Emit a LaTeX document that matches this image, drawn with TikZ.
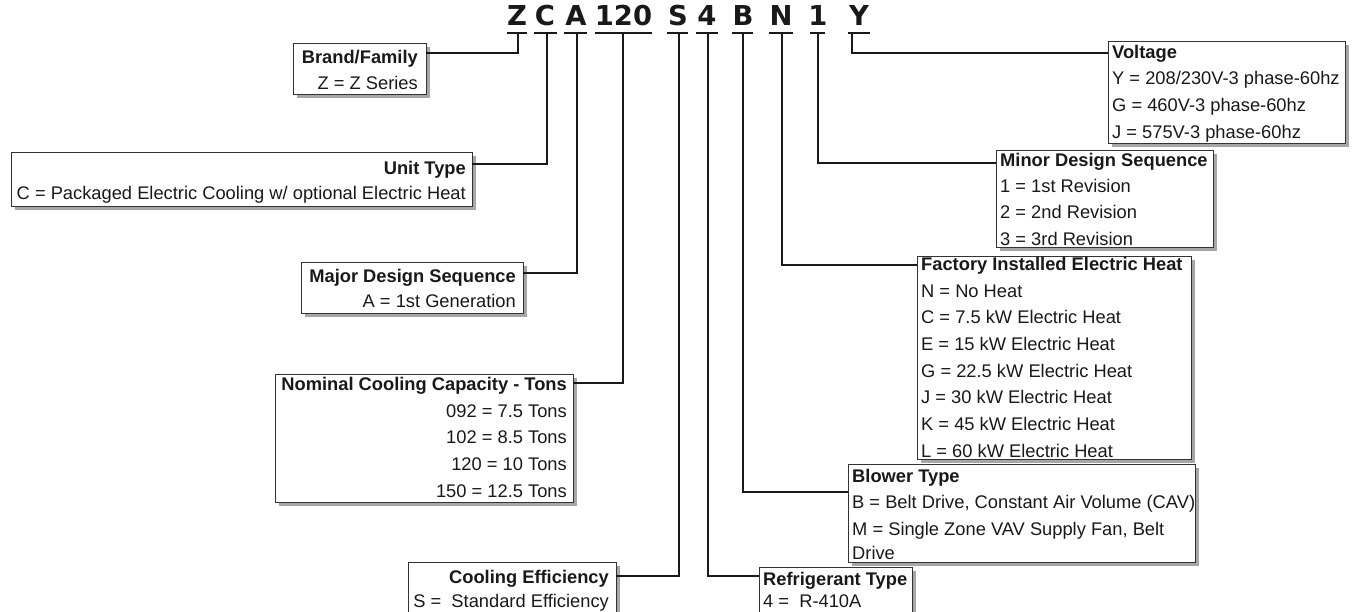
\documentclass[tikz,border=0pt]{standalone}
\usepackage{fontspec}
\setmainfont{Liberation Sans}
\newfontfamily\codefont{DejaVu Sans}
\usetikzlibrary{shadows}
\begin{document}
\begin{tikzpicture}[x=1pt,y=-1pt,
  zbox/.style={draw=black!80, line width=1.2pt, fill=white, inner sep=0pt, anchor=north west,
    drop shadow={shadow xshift=3pt, shadow yshift=-3pt, fill=black, opacity=0.35}},
  lbl/.style={inner sep=0pt, text=black!90, font=\fontsize{18.3}{22}\selectfont},
  ttl/.style={inner sep=0pt, text=black!90, font=\fontsize{18.3}{22}\selectfont\bfseries},
  lr/.style={anchor=base east},
  ll/.style={anchor=base west},
  code/.style={inner sep=0pt, anchor=base, text=black!90, font=\codefont\fontsize{27.4}{30}\selectfont\bfseries},
  conn/.style={line width=2pt, black!90},
  uline/.style={line width=2.5pt, black!90}]
\useasboundingbox (0,0) rectangle (1359,611);

% ---- code letters ----
\node[code] (cZ) at (517,25) {Z};
\node[code] (cC) at (545,25) {C};
\node[code] (cA) at (576,25) {A};
\node[code] (cD) at (623.5,25) {120};
\node[code] (cS) at (678,25) {S};
\node[code] (cF) at (707,25) {4};
\node[code] (cB) at (743,25) {B};
\node[code] (cN) at (781,25) {N};
\node[code] (cO) at (818,25) {1};
\node[code] (cY) at (859,25) {Y};

\draw[uline] (507,33) -- (527,33);
\draw[uline] (534,33) -- (557,33);
\draw[uline] (564,33) -- (587,33);
\draw[uline] (595,33) -- (652,33);
\draw[uline] (667,33) -- (688,33);
\draw[uline] (696,33) -- (718,33);
\draw[uline] (732,33) -- (753,33);
\draw[uline] (769,33) -- (793,33);
\draw[uline] (810,33) -- (825,33);
\draw[uline] (848,33) -- (870,33);

\coordinate (tZ) at (518,33);
\coordinate (tC) at (547,33);
\coordinate (tA) at (577,33);
\coordinate (tD) at (623,33);
\coordinate (tS) at (679,33);
\coordinate (tF) at (708,33);
\coordinate (tB) at (743,33);
\coordinate (tN) at (782,33);
\coordinate (tO) at (818,33);
\coordinate (tY) at (852,33);

% ---- boxes ----
\node[zbox, minimum width=133pt, minimum height=51pt] (brand) at (293,43) {};
\node[zbox, minimum width=461pt, minimum height=54pt] (unit) at (11,152) {};
\node[zbox, minimum width=222pt, minimum height=51pt] (major) at (301,262) {};
\node[zbox, minimum width=298pt, minimum height=128pt] (nominal) at (275,374) {};
\node[zbox, minimum width=208pt, minimum height=70pt] (cooleff) at (408,562) {};
\node[zbox, minimum width=153pt, minimum height=70pt] (refrig) at (759,567) {};
\node[zbox, minimum width=347pt, minimum height=98pt] (blower) at (848,464) {};
\node[zbox, minimum width=274pt, minimum height=203pt] (factory) at (917,256) {};
\node[zbox, minimum width=217pt, minimum height=97pt] (minor) at (996,150) {};
\node[zbox, minimum width=237pt, minimum height=102pt] (volt) at (1108,41) {};

% ---- box entry points ----
\coordinate (eBrand) at (426,53);
\coordinate (eUnit) at (472,164);
\coordinate (eMajor) at (523,273);
\coordinate (eNom) at (573,383);
\coordinate (eCool) at (616,576);
\coordinate (eRef) at (759,576);
\coordinate (eBlow) at (848,492);
\coordinate (eFact) at (917,265);
\coordinate (eMinor) at (996,163);
\coordinate (eVolt) at (1108,53);

\draw[conn] (tZ) |- (eBrand);
\draw[conn] (tC) |- (eUnit);
\draw[conn] (tA) |- (eMajor);
\draw[conn] (tD) |- (eNom);
\draw[conn] (tS) |- (eCool);
\draw[conn] (tF) |- (eRef);
\draw[conn] (tB) |- (eBlow);
\draw[conn] (tN) |- (eFact);
\draw[conn] (tO) |- (eMinor);
\draw[conn] (tY) |- (eVolt);

% ---- texts: left boxes ----
\node[ttl, lr] (brandT) at (418,63) {Brand/Family};
\node[lbl, lr] (brand1) at (418,89) {Z = Z Series};

\node[ttl, lr] (unitT) at (466,174) {Unit Type};
\node[lbl, lr] (unit1) at (466,199) {C = Packaged Electric Cooling w/ optional Electric Heat};

\node[ttl, lr] (majorT) at (516,282) {Major Design Sequence};
\node[lbl, lr] (major1) at (516,307) {A = 1st Generation};

\node[ttl, lr] (nomT) at (567,390.5) {Nominal Cooling Capacity - Tons};
\node[lbl, lr] (nom1) at (567,417) {092 = 7.5 Tons};
\node[lbl, lr] (nom2) at (567,443.7) {102 = 8.5 Tons};
\node[lbl, lr] (nom3) at (567,470.3) {120 = 10 Tons};
\node[lbl, lr] (nom4) at (567,497) {150 = 12.5 Tons};

\node[ttl, lr] (coolT) at (609,583.5) {Cooling Efficiency};
\node[lbl, lr] (cool1) at (609,607.5) {S = \ Standard Efficiency};

% ---- texts: right boxes ----
\node[ttl, ll] (voltT) at (1112,58) {Voltage};
\node[lbl, ll] (volt1) at (1112,84.7) {Y = 208/230V-3 phase-60hz};
\node[lbl, ll] (volt2) at (1112,111.3) {G = 460V-3 phase-60hz};
\node[lbl, ll] (volt3) at (1112,138) {J = 575V-3 phase-60hz};

\node[ttl, ll] (minorT) at (1000,166) {Minor Design Sequence};
\node[lbl, ll] (minor1) at (1000,192) {1 = 1st Revision};
\node[lbl, ll] (minor2) at (1000,218.5) {2 = 2nd Revision};
\node[lbl, ll] (minor3) at (1000,245) {3 = 3rd Revision};

\node[ttl, ll] (factT) at (921,270) {Factory Installed Electric Heat};
\node[lbl, ll] (fact1) at (921,297) {N = No Heat};
\node[lbl, ll] (fact2) at (921,323.5) {C = 7.5 kW Electric Heat};
\node[lbl, ll] (fact3) at (921,350) {E = 15 kW Electric Heat};
\node[lbl, ll] (fact4) at (921,377) {G = 22.5 kW Electric Heat};
\node[lbl, ll] (fact5) at (921,403.5) {J = 30 kW Electric Heat};
\node[lbl, ll] (fact6) at (921,430) {K = 45 kW Electric Heat};
\node[lbl, ll] (fact7) at (921,457) {L = 60 kW Electric Heat};

\node[ttl, ll] (blowT) at (852,482) {Blower Type};
\node[lbl, ll] (blow1) at (852,508) {B = Belt Drive, Constant Air Volume (CAV)};
\node[lbl, ll] (blow2) at (852,535) {M = Single Zone VAV Supply Fan, Belt};
\node[lbl, ll] (blow3) at (852,559) {Drive};

\node[ttl, ll] (refT) at (763,585) {Refrigerant Type};
\node[lbl, ll] (ref1) at (763,607.5) {4 = \ R-410A};
\end{tikzpicture}
\end{document}
